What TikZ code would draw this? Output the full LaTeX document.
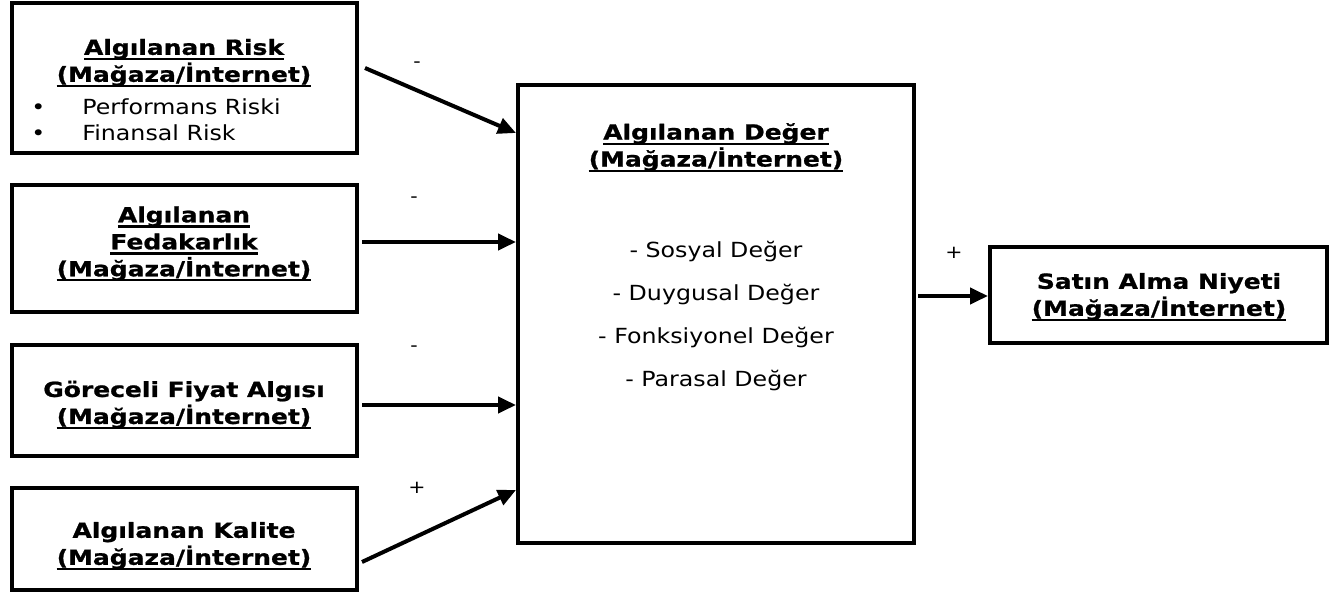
\documentclass[tikz,border=0pt]{standalone}
\usepackage{fontspec}
\setmainfont{DejaVu Sans}[FakeStretch=1.14, BoldFeatures={FakeStretch=1.2, FakeBold=1}]
\usetikzlibrary{arrows.meta}
\newcommand\myul[1]{\setbox0\hbox{#1}\rlap{\raisebox{-2.6pt}{\rule{\wd0}{1.1pt}}}\box0}
\tikzset{
  box/.style={draw, line width=2pt, inner sep=0pt},
  txt/.style={align=center, font=\fontsize{10.4}{13}\selectfont, inner sep=0pt},
  btxt/.style={txt, font=\bfseries\fontsize{10.4}{13.5}\selectfont},
  sign/.style={font=\fontsize{9}{11}\selectfont, inner sep=0pt},
  arr/.style={line width=2pt, -{Triangle[length=9pt,width=8pt]}}
}
\begin{document}
\begin{tikzpicture}[x=0.5pt,y=-0.5pt]
\useasboundingbox (0,0) rectangle (1338,593);
% boxes
\node[box, minimum width=172.5pt, minimum height=75pt] (b1) at (184.5,78) {};
\node[box, minimum width=172.5pt, minimum height=63.5pt] (b2) at (184.5,248.5) {};
\node[box, minimum width=172.5pt, minimum height=55.5pt] (b3) at (184.5,400.5) {};
\node[box, minimum width=172.5pt, minimum height=51pt] (b4) at (184.5,539) {};
\node[box, minimum width=198pt, minimum height=229pt] (c) at (716,314) {};
\node[box, minimum width=168.5pt, minimum height=48pt] (r) at (1158.5,295) {};
% texts
\node[btxt] (t1) at (184,63) {\myul{Algılanan Risk}\\\myul{(Mağaza/İnternet)}};
\node[txt, align=left, anchor=west] (t1b) at (31,120) {\makebox[25.5pt][l]{•}Performans Riski\\\makebox[25.5pt][l]{•}Finansal Risk};
\node[btxt] (t2) at (184,244) {\myul{Algılanan}\\\myul{Fedakarlık}\\\myul{(Mağaza/İnternet)}};
\node[btxt] (t3) at (184,405) {Göreceli Fiyat Algısı\\\myul{(Mağaza/İnternet)}};
\node[btxt] (t4) at (184,546) {Algılanan Kalite\\\myul{(Mağaza/İnternet)}};
\node[btxt] (tc) at (716,147.5) {\myul{Algılanan Değer}\\\myul{(Mağaza/İnternet)}};
\node[txt, font=\fontsize{10.4}{21.5}\selectfont] (tci) at (716,316) {- Sosyal Değer\\- Duygusal Değer\\- Fonksiyonel Değer\\- Parasal Değer};
\node[btxt] (tr) at (1159,297) {Satın Alma Niyeti\\\myul{(Mağaza/İnternet)}};
% arrows
\draw[arr] ([xshift=3pt,yshift=5pt]b1.east) -- ([yshift=90.5pt]c.west);
\draw[arr] ([xshift=1.5pt,yshift=3.25pt]b2.east) -- ([yshift=36pt]c.west);
\draw[arr] ([xshift=1.5pt,yshift=-2.25pt]b3.east) -- ([yshift=-45.5pt]c.west);
\draw[arr] ([xshift=1.5pt,yshift=-11.5pt]b4.east) -- ([yshift=-88pt]c.west);
\draw[arr] ([xshift=1pt,yshift=9pt]c.east) -- ([yshift=9pt]c.east -| r.west);
% signs
\node[sign] (s1) at (417,65) {-};
\node[sign] (s2) at (414,200) {-};
\node[sign] (s3) at (414,349) {-};
\node[sign] (s4) at (417,488) {+};
\node[sign] (s5) at (954,253) {+};
\end{tikzpicture}
\end{document}
